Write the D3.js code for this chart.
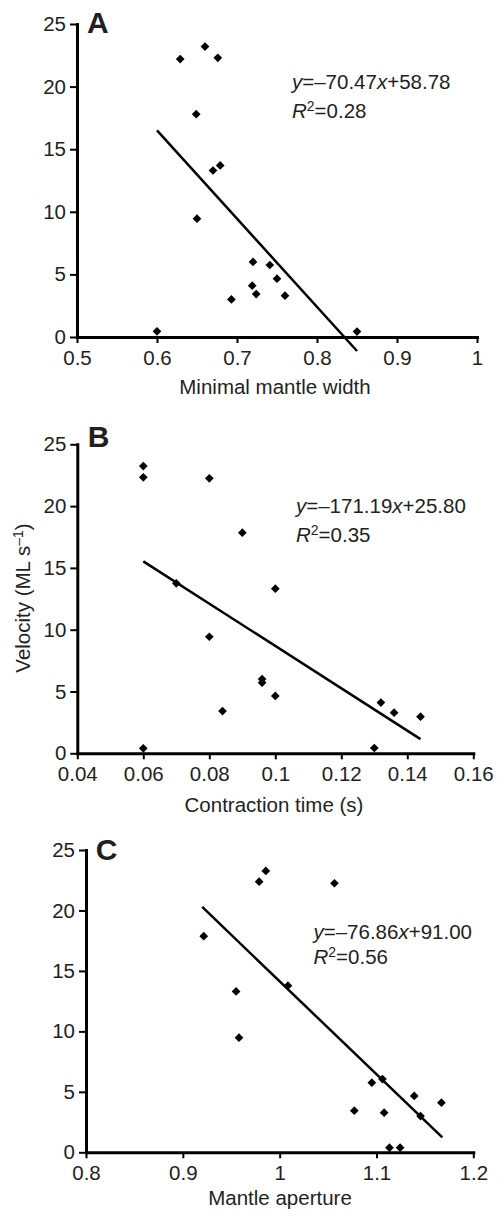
<!DOCTYPE html>
<html>
<head>
<meta charset="utf-8">
<script src="https://cdn.jsdelivr.net/npm/d3@7"></script>
<style>
  html, body { margin: 0; padding: 0; background: #fff; }
  svg { display: block; }
  text { font-family: Arial, "Liberation Sans", Helvetica, sans-serif; fill: #231f20; }
</style>
</head>
<body>
<svg id="chart" width="497" height="1209"></svg>
<script>
// panel A - minimal mantle width
const aX = [0.629, 0.66, 0.676, 0.649, 0.67, 0.679, 0.65, 0.72, 0.741, 0.75, 0.719, 0.724, 0.693, 0.76, 0.6, 0.85];
const aY = [22.2, 23.2, 22.3, 17.8, 13.3, 13.7, 9.45, 6.0, 5.75, 4.66, 4.1, 3.43, 3.0, 3.3, 0.45, 0.43];
// panel B - contraction time
const bX = [0.06, 0.06, 0.08, 0.09, 0.07, 0.08, 0.084, 0.06, 0.1, 0.096, 0.096, 0.1, 0.132, 0.136, 0.144, 0.13];
const bY = [23.24, 22.33, 22.25, 17.85, 13.75, 9.43, 3.42, 0.4, 13.32, 6.01, 5.71, 4.64, 4.1, 3.29, 2.96, 0.43];
// panel C - mantle aperture
const cX = [0.9216, 0.9788, 0.9857, 1.0566, 0.955, 0.958, 1.0086, 1.0952, 1.1062, 1.139, 1.1671, 1.0771, 1.1079, 1.1455, 1.1134, 1.1244];
const cY = [17.87, 22.38, 23.27, 22.25, 13.3, 9.48, 13.78, 5.76, 6.06, 4.66, 4.1, 3.44, 3.28, 3.0, 0.38, 0.38];

// fitted lines: slope, intercept, r2, x extent
const slopes = [-70.47, -171.19, -76.86];
const intercepts = [58.78, 25.80, 91.00];
const r2s = ["0.28", "0.35", "0.56"];
const fitRanges = [[0.6, 0.85], [0.06, 0.144], [0.92, 1.168]];

const xTicksA = [0.5, 0.6, 0.7, 0.8, 0.9, 1];
const xTicksB = [0.04, 0.06, 0.08, 0.1, 0.12, 0.14, 0.16];
const xTicksC = [0.8, 0.9, 1, 1.1, 1.2];
const yTicks = [0, 5, 10, 15, 20, 25];

const xTitles = ["Minimal mantle width", "Contraction time (s)", "Mantle aperture"];
const letters = ["A", "B", "C"];

const svg = d3.select('#chart');
const FS = 20.5;

const panels = [
  { xs: aX, ys: aY, ticks: xTicksA, xr: [77, 477], yr: [337, 24], eq: [292, 89.3, 118.3], titleY: 394, titleX: 275, letter: [87, 33.3] },
  { xs: bX, ys: bY, ticks: xTicksB, xr: [77.3, 473.3], yr: [753.3, 444.3], eq: [296, 513.3, 542.3], titleY: 812, titleX: 274, letter: [87.7, 446.7] },
  { xs: cX, ys: cY, ticks: xTicksC, xr: [86, 473.3], yr: [1152.3, 850], eq: [313.5, 938.8, 964], titleY: 1205, titleX: 280, letter: [95.7, 860] }
];

const fmt = d => String(+d.toFixed(2));

panels.forEach((p, i) => {
  const x = d3.scaleLinear().domain(d3.extent(p.ticks)).range(p.xr);
  const y = d3.scaleLinear().domain([0, 25]).range(p.yr);
  const g = svg.append('g');

  const xa = g.append('g')
    .attr('transform', `translate(0,${p.yr[0]})`)
    .call(d3.axisBottom(x).tickValues(p.ticks).tickFormat(fmt).tickSize(6).tickSizeOuter(0).tickPadding(7));
  const ya = g.append('g')
    .attr('transform', `translate(${p.xr[0]},0)`)
    .call(d3.axisLeft(y).tickValues(yTicks).tickSize(7).tickSizeOuter(0).tickPadding(4));

  [xa, ya].forEach(a => {
    a.select('.domain').attr('stroke', '#000').attr('stroke-width', 3).attr('stroke-linecap', 'square');
    a.selectAll('.tick line').attr('stroke', '#000').attr('stroke-width', 2);
    a.selectAll('.tick text').style('font-size', FS + 'px').attr('fill', '#231f20');
  });

  // fitted line
  const fx = fitRanges[i];
  g.append('line')
    .attr('x1', x(fx[0])).attr('y1', y(slopes[i] * fx[0] + intercepts[i]))
    .attr('x2', x(fx[1])).attr('y2', y(slopes[i] * fx[1] + intercepts[i]))
    .attr('stroke', '#000').attr('stroke-width', 2.5);

  // points
  const sym = d3.symbol(d3.symbolSquare, 38);
  g.selectAll('.pt')
    .data(p.xs.map((v, k) => [v, p.ys[k]]))
    .enter()
    .append('path')
    .attr('class', 'pt')
    .attr('d', sym)
    .attr('transform', d => `translate(${x(d[0])},${y(d[1])}) rotate(45)`)
    .attr('fill', '#000');

  // equation text
  const e1 = g.append('text').attr('x', p.eq[0]).attr('y', p.eq[1]).style('font-size', FS + 'px');
  e1.append('tspan').attr('font-style', 'italic').text('y');
  e1.append('tspan').text('=\u2013' + Math.abs(slopes[i]).toFixed(2));
  e1.append('tspan').attr('font-style', 'italic').text('x');
  e1.append('tspan').text('+' + intercepts[i].toFixed(2));

  const e2 = g.append('text').attr('x', p.eq[0]).attr('y', p.eq[2]).style('font-size', FS + 'px');
  e2.append('tspan').attr('font-style', 'italic').text('R');
  e2.append('tspan').attr('dy', -7).style('font-size', '14px').text('2');
  e2.append('tspan').attr('dy', 7).text('=' + r2s[i]);

  // panel letter
  g.append('text')
    .attr('x', p.letter[0]).attr('y', p.letter[1])
    .style('font-size', '30px').style('font-weight', 'bold')
    .attr('fill', '#231f20')
    .text(letters[i]);

  // x title
  g.append('text')
    .attr('x', p.titleX).attr('y', p.titleY)
    .attr('text-anchor', 'middle')
    .style('font-size', FS + 'px')
    .text(xTitles[i]);
});

// y title (only on middle panel)
const yt = svg.append('text')
  .attr('transform', 'translate(30,598) rotate(-90)')
  .attr('text-anchor', 'middle')
  .style('font-size', FS + 'px');
yt.append('tspan').text('Velocity (ML s');
yt.append('tspan').attr('dy', -7).style('font-size', '14px').text('\u20131');
yt.append('tspan').attr('dy', 7).text(')');
</script>
</body>
</html>
